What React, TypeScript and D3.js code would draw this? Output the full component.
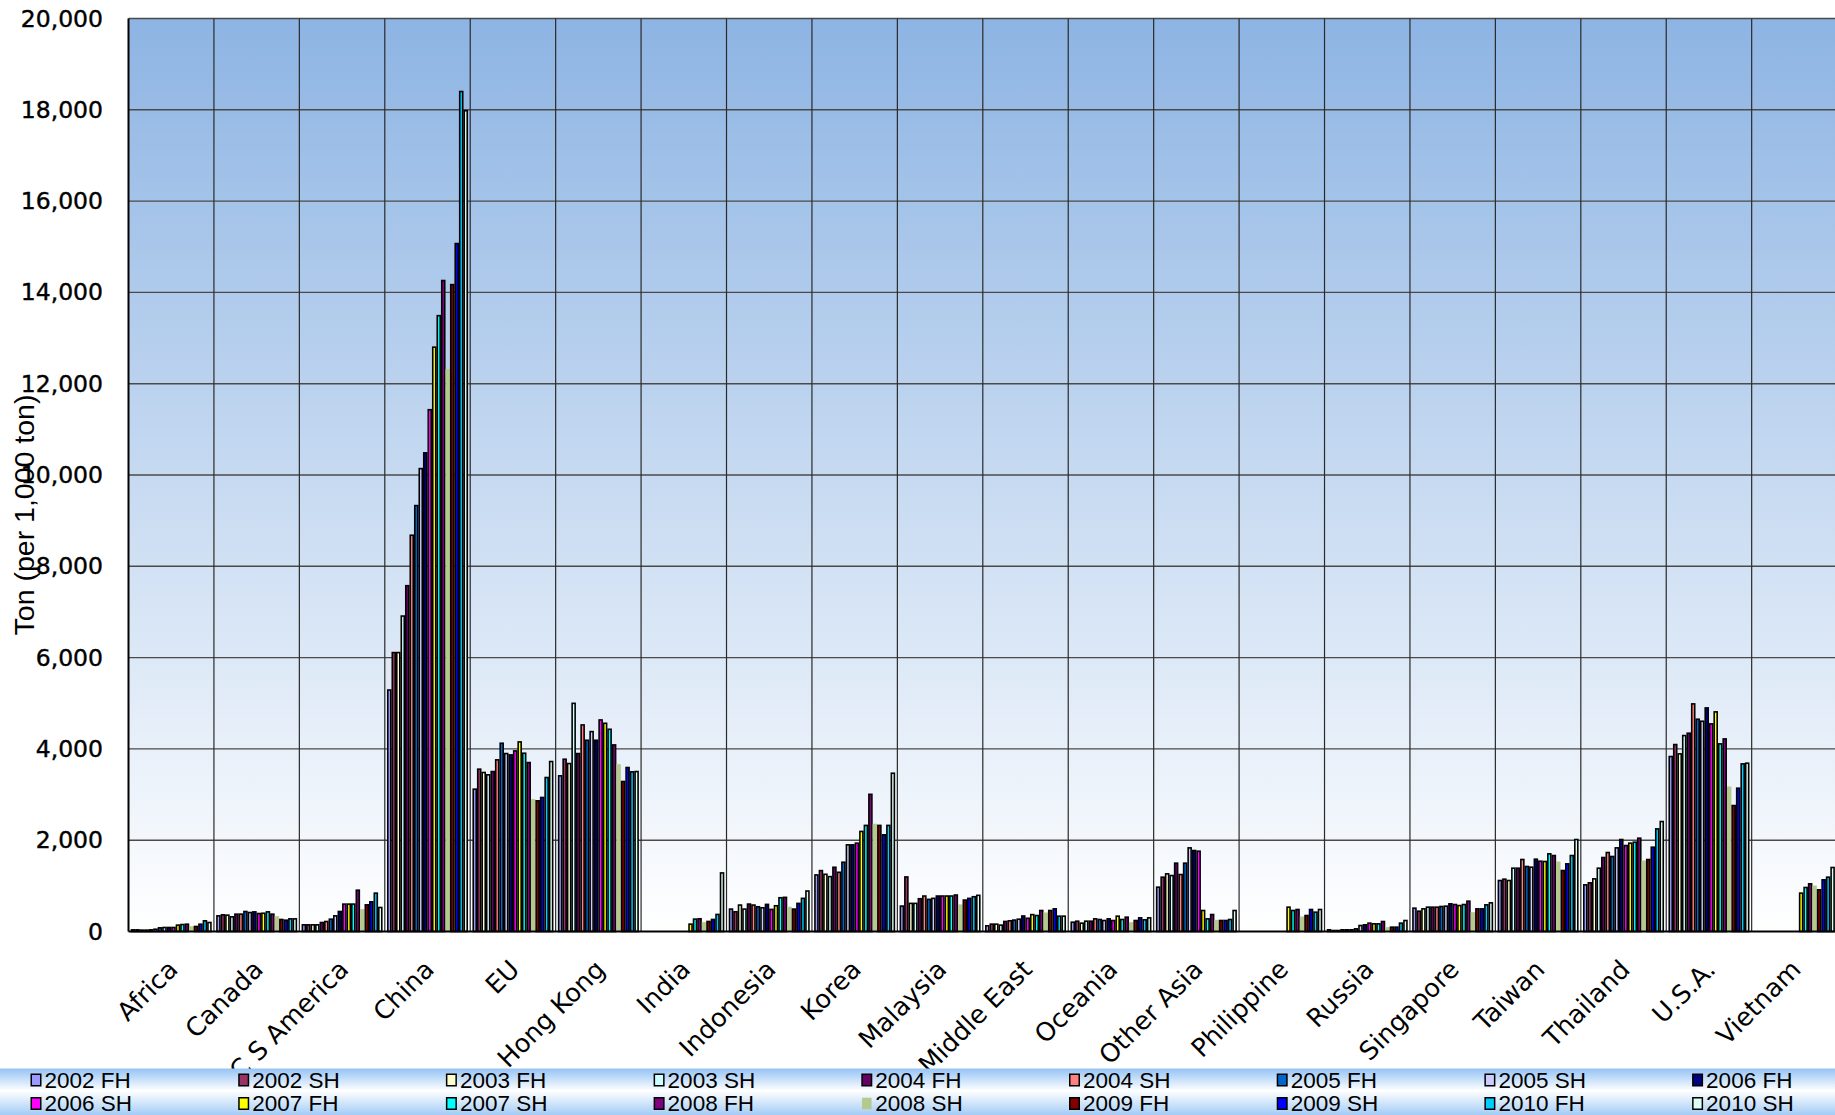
import React, { useEffect, useRef } from "react";
import * as d3 from "d3";

const categories = [
  "Africa", "Canada", "C S America", "China", "EU", "Hong Kong", "India",
  "Indonesia", "Korea", "Malaysia", "Middle East", "Oceania", "Other Asia",
  "Philippine", "Russia", "Singapore", "Taiwan", "Thailand", "U.S.A.", "Vietnam",
];

const seriesNames = [
  "2002 FH", "2002 SH", "2003 FH", "2003 SH", "2004 FH", "2004 SH",
  "2005 FH", "2005 SH", "2006 FH", "2006 SH", "2007 FH", "2007 SH",
  "2008 FH", "2008 SH", "2009 FH", "2009 SH", "2010 FH", "2010 SH",
];

const seriesColors = [
  "#9999FF", "#993366", "#FFFFCC", "#CCFFFF", "#660066", "#FF8080",
  "#0066CC", "#CCCCFF", "#000080", "#FF00FF", "#FFFF00", "#00FFFF",
  "#800080", "#B5C98E", "#800000", "#0000FF", "#00CCFF", "#DDFFF2",
];

// the 2008 SH series has no outline in the original
const noOutline = ["2008 SH"];

const yTicks = [0, 2000, 4000, 6000, 8000, 10000, 12000, 14000, 16000, 18000, 20000];

// values per region, in series order (null = no bar)
const africa = [36, 36, 30, 30, 36, 50, 80, 88, 88, 88, 140, 153, 160, 117, 110, 160, 234, 197];
const canada = [343, 365, 358, 321, 380, 380, 438, 416, 430, 394, 400, 430, 380, 336, 263, 248, 277, 277];
const csAmerica = [146, 146, 146, 146, 197, 219, 270, 343, 438, 600, 600, 600, 905, 490, 584, 650, 840, 526];
const china = [5290, 6110, 6110, 6910, 7575, 8680, 9330, 10140, 10485, 11430, 12800, 13490, 14260, 12320, 14170, 15070, 18400, 17980];
const eu = [3118, 3556, 3483, 3432, 3504, 3760, 4124, 3898, 3869, 3956, 4153, 3905, 3701, 2900, 2863, 2936, 3373, 3723];
const hongKong = [3410, 3774, 3679, 4998, 3898, 4525, 4189, 4379, 4189, 4634, 4561, 4430, 4087, 3665, 3286, 3592, 3497, 3504];
const india = [null, null, null, null, null, null, null, null, null, null, 161, 271, 279, 205, 220, 264, 374, 1283];
const indonesia = [491, 432, 579, 491, 601, 579, 542, 520, 594, 484, 564, 740, 748, 542, 491, 616, 726, 887];
const korea = [1239, 1334, 1253, 1202, 1407, 1297, 1517, 1898, 1898, 1935, 2192, 2324, 3005, 2360, 2324, 2118, 2324, 3467];
const malaysia = [557, 1195, 616, 616, 718, 777, 704, 726, 777, 777, 777, 777, 799, 594, 689, 726, 762, 792];
const middleEast = [125, 161, 161, 140, 220, 235, 250, 270, 340, 290, 370, 350, 460, 416, 460, 496, 336, 336];
const oceania = [204, 226, 183, 226, 226, 277, 263, 241, 277, 241, 336, 263, 314, 204, 241, 299, 256, 299];
const otherAsia = [971, 1190, 1263, 1226, 1497, 1248, 1497, 1832, 1774, 1759, 460, 277, 372, 256, 241, 241, 263, 460];
const philippine = [null, null, null, null, null, null, null, null, null, null, 533, 460, 482, 329, 350, 482, 423, 482];
const russia = [37, 22, 22, 37, 37, 37, 58, 131, 146, 183, 168, 168, 219, 95, 95, 95, 183, 241];
const singapore = [511, 445, 496, 533, 533, 533, 548, 555, 606, 591, 569, 591, 664, 423, 496, 496, 584, 628];
const taiwan = [1117, 1146, 1117, 1387, 1387, 1577, 1424, 1409, 1584, 1540, 1533, 1701, 1664, 1533, 1336, 1482, 1664, 2015];
const thailand = [1022, 1066, 1153, 1387, 1621, 1730, 1643, 1832, 2015, 1883, 1935, 1956, 2044, 1555, 1577, 1847, 2248, 2409];
const usa = [3833, 4095, 3891, 4292, 4344, 4986, 4650, 4606, 4898, 4548, 4811, 4110, 4219, 3176, 2759, 3139, 3672, 3687];
const vietnam = [null, null, null, null, null, null, null, null, null, null, 840, 964, 1044, 1007, 913, 1132, 1190, 1402];

const regionValues = [
  africa, canada, csAmerica, china, eu, hongKong, india, indonesia, korea, malaysia,
  middleEast, oceania, otherAsia, philippine, russia, singapore, taiwan, thailand, usa, vietnam,
];

const width = 1835, height = 1115;
const plotLeft = 128.5, plotTop = 18.5, plotBottom = 931.5, catWidth = 85.43;

const App = () => {
  const svgRef = useRef<SVGSVGElement>(null);

  useEffect(() => {
    const svg = d3.select(svgRef.current);
    svg.selectAll("*").remove();

    const plotRight = plotLeft + catWidth * categories.length;

    const x0 = d3.scaleBand().domain(categories).range([plotLeft, plotRight]).padding(0);
    const x1 = d3.scaleBand().domain(seriesNames).range([0, x0.bandwidth()])
      .paddingInner(0).paddingOuter(0.5);
    const y = d3.scaleLinear().domain([0, 20000]).range([plotBottom, plotTop]);

    const defs = svg.append("defs");
    const bg = defs.append("linearGradient").attr("id", "plotBg")
      .attr("x1", 0).attr("y1", 0).attr("x2", 0).attr("y2", 1);
    bg.append("stop").attr("offset", "0%").attr("stop-color", "#8DB4E3");
    bg.append("stop").attr("offset", "100%").attr("stop-color", "#FFFFFF");

    const lg = defs.append("linearGradient").attr("id", "legendBg")
      .attr("x1", 0).attr("y1", 0).attr("x2", 0).attr("y2", 1);
    lg.append("stop").attr("offset", "0%").attr("stop-color", "#95C3F5");
    lg.append("stop").attr("offset", "48%").attr("stop-color", "#FFFFFF");
    lg.append("stop").attr("offset", "100%").attr("stop-color", "#A3CCF6");

    // plot background
    svg.append("rect")
      .attr("x", plotLeft).attr("y", plotTop)
      .attr("width", plotRight - plotLeft).attr("height", plotBottom - plotTop)
      .attr("fill", "url(#plotBg)");

    // grid
    svg.append("g").selectAll("line")
      .data(yTicks.slice(1))
      .join("line")
      .attr("x1", plotLeft).attr("x2", plotRight)
      .attr("y1", d => y(d)).attr("y2", d => y(d))
      .attr("stroke", "#4a4a4a").attr("stroke-width", 1.4);

    svg.append("g").selectAll("line")
      .data(categories.slice(1))
      .join("line")
      .attr("x1", d => x0(d)!).attr("x2", d => x0(d)!)
      .attr("y1", plotTop).attr("y2", plotBottom)
      .attr("stroke", "#2a2a2a").attr("stroke-width", 1.2);

    // bars
    const bars = svg.append("g");
    categories.forEach((cat, ci) => {
      const vals = regionValues[ci];
      seriesNames.forEach((s, si) => {
        const v = vals[si];
        if (v == null) return;
        const plain = noOutline.includes(s);
        const bx = x0(cat)! + x1(s)!;
        const bw = x1.bandwidth();
        bars.append("rect")
          .attr("x", plain ? bx : bx + 0.75)
          .attr("y", y(v))
          .attr("width", plain ? bw : bw - 1.5)
          .attr("height", y(0) - y(v))
          .attr("fill", seriesColors[si])
          .attr("stroke", plain ? "none" : "#000")
          .attr("stroke-width", 1.6);
      });
    });

    // axes
    svg.append("line")
      .attr("x1", plotLeft).attr("x2", plotLeft)
      .attr("y1", plotTop).attr("y2", plotBottom)
      .attr("stroke", "#000").attr("stroke-width", 2);
    svg.append("line")
      .attr("x1", plotLeft).attr("x2", plotRight)
      .attr("y1", plotBottom).attr("y2", plotBottom)
      .attr("stroke", "#000").attr("stroke-width", 2);

    // y tick labels
    svg.append("g").selectAll("text")
      .data(yTicks)
      .join("text")
      .attr("x", 103)
      .attr("y", d => y(d))
      .attr("text-anchor", "end")
      .attr("dominant-baseline", "central")
      .style("font-family", "DejaVu Sans")
      .style("font-size", "23.5px")
      .style("stroke", "#000")
      .style("stroke-width", "0.4px")
      .text(d => d3.format(",")(d));

    svg.append("text")
      .attr("transform", "translate(24,515) rotate(-90)")
      .attr("text-anchor", "middle")
      .attr("dominant-baseline", "central")
      .style("font-family", "Liberation Sans")
      .style("font-size", "28.5px")
      .text("Ton (per 1,000 ton)");

    // category labels
    svg.append("g").selectAll("text")
      .data(categories)
      .join("text")
      .attr("transform", d => `translate(${x0(d)! + x0.bandwidth() / 2 + 8},971) rotate(-45)`)
      .attr("text-anchor", "end")
      .style("font-family", "DejaVu Sans")
      .style("font-size", "25.5px")
      .text(d => d);

    // legend
    const legendTop = 1068.5;
    svg.append("rect")
      .attr("x", 0).attr("y", legendTop)
      .attr("width", width).attr("height", height - legendTop)
      .attr("fill", "url(#legendBg)");

    const item = svg.append("g").selectAll("g")
      .data(seriesNames)
      .join("g")
      .attr("transform", (d, i) =>
        `translate(${30.5 + (i % 9) * 207.7},${i < 9 ? 1080 : 1103.5})`);

    item.append("rect")
      .attr("x", 0.75).attr("y", -5.75)
      .attr("width", 9.5).attr("height", 11.5)
      .attr("fill", (d, i) => seriesColors[i])
      .attr("stroke", d => (noOutline.includes(d) ? "none" : "#000"))
      .attr("stroke-width", 1.5);

    item.append("text")
      .attr("x", 14)
      .attr("dominant-baseline", "central")
      .style("font-family", "Liberation Sans")
      .style("font-size", "22.5px")
      .text(d => d);
  }, []);

  return (
    <svg
      ref={svgRef}
      width={width}
      height={height}
      style={{ position: "absolute", left: 0, top: 0, background: "#fff" }}
    ></svg>
  );
};

export default App;
